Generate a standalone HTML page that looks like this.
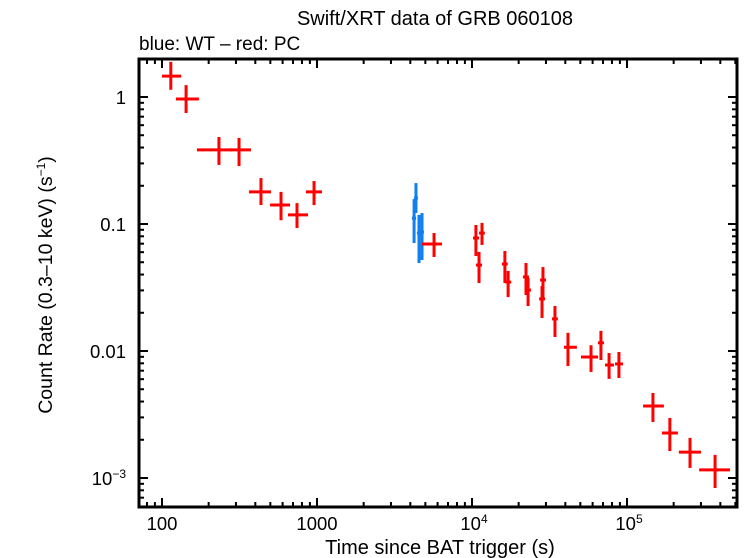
<!DOCTYPE html>
<html><head><meta charset="utf-8"><style>
html,body{margin:0;padding:0;background:#fff}
svg{display:block;font-family:"Liberation Sans",sans-serif}
</style></head><body>
<svg id="chart" width="746" height="558">
<text x="435" y="25" font-size="20" text-anchor="middle">Swift/XRT data of GRB 060108</text>
<text x="139" y="50" font-size="19">blue: WT – red: PC</text>
<text transform="translate(52,285) rotate(-90)" font-size="19.5" text-anchor="middle">Count Rate (0.3–10 keV) (s<tspan dy="-7" font-size="12">−1</tspan><tspan dy="7">)</tspan></text>
<text x="440" y="554" font-size="20" text-anchor="middle">Time since BAT trigger (s)</text>
<g id="ticks"></g><g id="marks"></g>
<rect x="139" y="59" width="598" height="448" fill="none" stroke="#000" stroke-width="3"/>
</svg>
<script>
const pcT=[114,143,233,314,435,586,743,957,5690,10600,11600,11100,16300,17100,22300,23000,28300,28700,34300,41600,58600,67900,76600,88700,147000,189000,255000,370000];
const pcTlo=[100,123,168,275,364,498,650,849,4760,10150,11100,10600,15600,16400,21300,22000,27100,27500,32800,39200,50500,65000,72100,83700,127000,168000,216000,292000];
const pcThi=[133,173,279,375,505,670,875,1077,6400,11100,12100,11600,17000,17900,23300,24000,29600,30000,35800,47500,65000,71000,82400,94200,173000,213000,300000,462000];
const pcR=[1.46,0.965,0.383,0.383,0.179,0.141,0.118,0.179,0.0696,0.0776,0.0849,0.0475,0.0484,0.0349,0.0383,0.0302,0.0257,0.0362,0.0179,0.0107,0.00897,0.0116,0.00776,0.00791,0.00369,0.00226,0.0016,0.00116];
const pcRlo=[1.14,0.748,0.292,0.286,0.141,0.107,0.093,0.141,0.055,0.056,0.0684,0.0343,0.0343,0.0266,0.0276,0.0226,0.0182,0.0261,0.0129,0.00762,0.00684,0.00849,0.00603,0.00613,0.00276,0.00163,0.0012,0.000834];
const pcRhi=[1.89,1.24,0.484,0.476,0.23,0.179,0.146,0.218,0.0849,0.0982,0.102,0.0602,0.0613,0.0427,0.0493,0.0376,0.0325,0.0458,0.0226,0.0139,0.0111,0.0144,0.00964,0.00982,0.00467,0.00297,0.00207,0.00152];
const wtT=[4350,4230,4550,4760];
const wtTlo=[4220,4100,4410,4620];
const wtThi=[4480,4360,4690,4900];
const wtR=[0.160,0.111,0.0849,0.0865];
const wtRlo=[0.122,0.0708,0.0493,0.0521];
const wtRhi=[0.210,0.157,0.118,0.122];
const xTickVals=[100,1000,10000,100000];
const xTickLabels=["100","1000","10^4","10^5"];
const yTickVals=[1,0.1,0.01,0.001];
const yTickLabels=["1","0.1","0.01","10^-3"];

const L=139,R=737,T=59,B=507;
function X(t){return 162+(Math.log10(t)-2)*155;}
function Y(r){return 97-Math.log10(r)*127;}
const NS="http://www.w3.org/2000/svg";
const tk=document.getElementById('ticks'), mk=document.getElementById('marks');
function line(g,x1,y1,x2,y2,c,w){const l=document.createElementNS(NS,'line');l.setAttribute('x1',x1);l.setAttribute('y1',y1);l.setAttribute('x2',x2);l.setAttribute('y2',y2);l.setAttribute('stroke',c);l.setAttribute('stroke-width',w);g.appendChild(l);return l;}
function lbl(x,y,s,anchor){const t=document.createElementNS(NS,'text');t.setAttribute('x',x);t.setAttribute('y',y);t.setAttribute('font-size','18.5');t.setAttribute('text-anchor',anchor);
 if(s.indexOf('^')>=0){const p=s.split('^');t.textContent=p[0];const sp=document.createElementNS(NS,'tspan');sp.setAttribute('dy','-7');sp.setAttribute('font-size','12');sp.textContent=p[1].replace('-','−');t.appendChild(sp);} else t.textContent=s;
 return t;}
for(let d=1;d<=5;d++){for(let m=1;m<10;m++){const v=m*Math.pow(10,d);const x=X(v);if(x<L+1||x>R-1)continue;const len=m===1?9:5;
 const a=line(tk,x,B,x,B-len,'#000',2);
 const b=line(tk,x,T,x,T+len,'#000',2);}}
xTickVals.forEach((v,i)=>{const t=lbl(X(v)-(xTickLabels[i].indexOf('^')>=0?-2:0),530,xTickLabels[i],'middle');
 
 tk.appendChild(t);});
for(let d=-4;d<=0;d++){for(let m=1;m<10;m++){const v=m*Math.pow(10,d);const y=Y(v);if(y<T+1||y>B-1)continue;const len=m===1?9:5;
 const a=line(tk,L,y,L+len,y,'#000',2);
 const b=line(tk,R,y,R-len,y,'#000',2);}}
yTickVals.forEach((v,i)=>{const t=lbl(126,Y(v)+7,yTickLabels[i],'end');
 
 tk.appendChild(t);});
function series(T0,Tl,Th,Rv,Rl,Rh,c,name){for(let i=0;i<T0.length;i++){
 const g=document.createElementNS(NS,'g');
 
 
 line(g,X(Tl[i]),Y(Rv[i]),X(Th[i]),Y(Rv[i]),c,3);
 line(g,X(T0[i]),Y(Rl[i]),X(T0[i]),Y(Rh[i]),c,3);
 mk.appendChild(g);}}
series(wtT,wtTlo,wtThi,wtR,wtRlo,wtRhi,'#1080f0','wt-point');
series(pcT,pcTlo,pcThi,pcR,pcRlo,pcRhi,'#ff0000','pc-point');
</script>
</body></html>
